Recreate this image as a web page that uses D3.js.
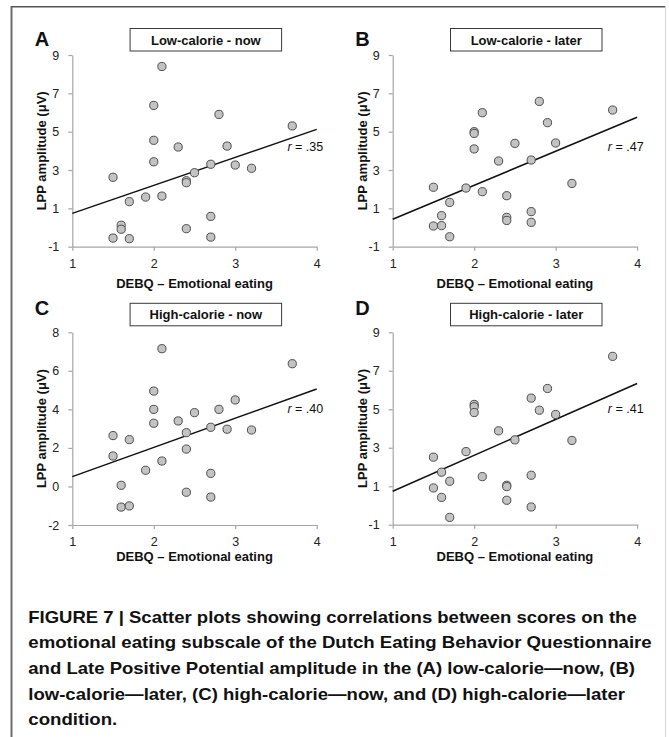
<!DOCTYPE html>
<html>
<head>
<meta charset="utf-8">
<script src="https://d3js.org/d3.v7.min.js"></script>
<style>
  body { margin: 0; background: #fff; }
  svg text { font-family: "Liberation Sans", Arial, Helvetica, sans-serif; }
</style>
</head>
<body>
<script>
// values
var debqA = [2.1, 2.0, 2.8, 3.7, 2.0, 2.3, 2.9, 2.0, 1.5, 2.7, 3.0, 3.2, 2.5, 2.4, 2.4, 1.7, 1.9, 2.1, 2.7, 1.6, 1.6, 1.5, 1.7, 2.4, 2.7];
var lppA  = [8.4, 6.37, 5.9, 5.3, 4.55, 4.2, 4.25, 3.43, 2.62, 3.3, 3.26, 3.09, 2.86, 2.44, 2.34, 1.35, 1.59, 1.64, 0.58, 0.12, -0.09, -0.55, -0.58, -0.06, -0.5];

var debqB = [2.8, 3.7, 2.1, 2.9, 2.0, 2.0, 2.5, 3.0, 2.0, 2.3, 2.7, 3.2, 1.5, 1.9, 2.1, 2.4, 1.7, 1.6, 2.7, 2.4, 2.4, 2.7, 1.5, 1.6, 1.7];
var lppB  = [6.58, 6.13, 5.99, 5.47, 5.0, 4.91, 4.39, 4.41, 4.1, 3.47, 3.52, 2.3, 2.1, 2.06, 1.87, 1.66, 1.31, 0.62, 0.83, 0.53, 0.37, 0.27, 0.08, 0.1, -0.48];

var debqC = [2.1, 3.7, 2.0, 3.0, 2.0, 2.8, 2.5, 2.3, 2.0, 2.7, 2.9, 3.2, 2.4, 1.5, 1.7, 2.4, 1.5, 2.1, 1.9, 2.7, 1.6, 2.4, 2.7, 1.6, 1.7];
var lppC  = [7.15, 6.37, 4.95, 4.49, 4.0, 4.0, 3.83, 3.4, 3.28, 3.07, 2.97, 2.93, 2.79, 2.64, 2.43, 1.94, 1.58, 1.32, 0.84, 0.68, 0.06, -0.3, -0.55, -1.07, -1.01];

var debqD = [3.7, 2.9, 2.7, 2.0, 2.0, 2.8, 2.0, 3.0, 2.3, 2.5, 3.2, 1.9, 1.5, 1.6, 2.1, 2.7, 1.7, 2.4, 2.4, 1.5, 1.6, 2.4, 2.7, 1.7];
var lppD  = [7.75, 6.08, 5.58, 5.25, 5.13, 4.95, 4.83, 4.73, 3.88, 3.41, 3.38, 2.8, 2.51, 1.73, 1.5, 1.57, 1.26, 1.05, 0.98, 0.91, 0.42, 0.27, -0.08, -0.62];

// fitted line: LPP at DEBQ = 1 and DEBQ = 4
var fitA = [0.74, 5.12];
var fitB = [0.43, 5.75];
var fitC = [0.51, 5.06];
var fitD = [0.74, 6.34];

var rLabels = [".35", ".47", ".40", ".41"];
var titles = ["Low-calorie - now", "Low-calorie - later", "High-calorie - now", "High-calorie - later"];
var letters = ["A", "B", "C", "D"];

var xTicks = [1, 2, 3, 4];
var yTicksOdd = [-1, 1, 3, 5, 7, 9];
var yTicksEven = [-2, 0, 2, 4, 6, 8];

var captionLines = [
    "FIGURE 7 | Scatter plots showing correlations between scores on the",
    "emotional eating subscale of the Dutch Eating Behavior Questionnaire",
    "and Late Positive Potential amplitude in the (A) low-calorie\u2014now, (B)",
    "low-calorie\u2014later, (C) high-calorie\u2014now, and (D) high-calorie\u2014later",
    "condition."
];

var W = 669, H = 737;
var svg = d3.select("body").append("svg")
    .attr("width", W)
    .attr("height", H);

svg.append("rect").attr("width", W).attr("height", H).attr("fill", "#fff");

// outer frame (open at the bottom)
svg.append("line").attr("x1", 11.5).attr("x2", 11.5).attr("y1", 6).attr("y2", H)
    .attr("stroke", "#6e6e6e").attr("stroke-width", 2);
svg.append("line").attr("x1", 11).attr("x2", 666).attr("y1", 6.8).attr("y2", 6.8)
    .attr("stroke", "#555").attr("stroke-width", 1.5);
svg.append("line").attr("x1", 665.5).attr("x2", 665.5).attr("y1", 6).attr("y2", H)
    .attr("stroke", "#d8d8d8").attr("stroke-width", 1);

var panels = [
    {xs: debqA, ys: lppA, fit: fitA, ticks: yTicksOdd,  left: 72.3,  top: 55,    bottom: 246.7, row: 0},
    {xs: debqB, ys: lppB, fit: fitB, ticks: yTicksOdd,  left: 392.7, top: 55,    bottom: 246.7, row: 0},
    {xs: debqC, ys: lppC, fit: fitC, ticks: yTicksEven, left: 72.3,  top: 332.3, bottom: 525,   row: 1},
    {xs: debqD, ys: lppD, fit: fitD, ticks: yTicksOdd,  left: 392.7, top: 332.3, bottom: 524.7, row: 1}
];
var plotW = 244.4;
var axisGrey = "#a6a6a6";
var plain = function(d) { return String(d); };

panels.forEach(function(p, i) {
    var g = svg.append("g");
    var x = d3.scaleLinear().domain([1, 4]).range([p.left, p.left + plotW]);
    var y = d3.scaleLinear().domain(d3.extent(p.ticks)).range([p.bottom, p.top]);

    var xAxis = g.append("g")
        .attr("transform", "translate(0," + p.bottom + ")")
        .call(d3.axisBottom(x).tickValues(xTicks).tickFormat(plain)
            .tickSize(4).tickSizeOuter(0).tickPadding(8));
    var yAxis = g.append("g")
        .attr("transform", "translate(" + p.left + ",0)")
        .call(d3.axisLeft(y).tickValues(p.ticks).tickFormat(plain)
            .tickSize(4).tickSizeOuter(0).tickPadding(9));

    [xAxis, yAxis].forEach(function(a) {
        a.attr("font-size", 12.5).attr("font-family", "'Liberation Sans', Arial, sans-serif");
        a.select(".domain").attr("stroke", axisGrey).attr("stroke-width", 1.2);
        a.selectAll(".tick line").attr("stroke", axisGrey).attr("stroke-width", 1.2);
        a.selectAll(".tick text").attr("fill", "#222");
    });

    // regression line
    g.append("line")
        .attr("x1", x(1)).attr("y1", y(p.fit[0]))
        .attr("x2", x(4)).attr("y2", y(p.fit[1]))
        .attr("stroke", "#111")
        .attr("stroke-width", 1.5);

    // points
    var pts = p.xs.map(function(v, k) { return {x: v, y: p.ys[k]}; });
    g.selectAll(".pt").data(pts).enter().append("circle")
        .attr("class", "pt")
        .attr("cx", function(d) { return x(d.x); })
        .attr("cy", function(d) { return y(d.y); })
        .attr("r", 4.1)
        .attr("fill", "#c3c3c3")
        .attr("stroke", "#4d4d4d")
        .attr("stroke-width", 1);

    // r label
    var rY = p.row == 0 ? 150.5 : 413;
    var rt = g.append("text")
        .attr("x", p.left + plotW + 6.5)
        .attr("y", rY)
        .attr("text-anchor", "end")
        .attr("fill", "#111")
        .style("font-size", "12.5px");
    rt.append("tspan").style("font-style", "italic").text("r");
    rt.append("tspan").text(" = " + rLabels[i]);

    // panel letter
    g.append("text")
        .attr("x", p.left - 37.5)
        .attr("y", p.row == 0 ? 46 : 315)
        .style("font-size", "20px")
        .style("font-weight", "bold")
        .attr("fill", "#111")
        .text(letters[i]);

    // title box
    var bx = p.left + 57.8, by = p.row == 0 ? 28.5 : 303.3;
    g.append("rect")
        .attr("x", bx).attr("y", by)
        .attr("width", 151.5).attr("height", 22.5)
        .attr("fill", "#fff")
        .attr("stroke", "#3a3a3a")
        .attr("stroke-width", 1);
    g.append("text")
        .attr("x", bx + 151.5 / 2)
        .attr("y", by + 16)
        .attr("text-anchor", "middle")
        .style("font-size", "13px")
        .style("font-weight", "bold")
        .attr("fill", "#111")
        .text(titles[i]);

    // axis titles
    g.append("text")
        .attr("x", p.left + plotW / 2)
        .attr("y", p.row == 0 ? 288 : 560.5)
        .attr("text-anchor", "middle")
        .style("font-size", "13px")
        .style("font-weight", "bold")
        .attr("fill", "#111")
        .text("DEBQ \u2013 Emotional eating");
    g.append("text")
        .attr("transform", "translate(" + (p.left - 26) + "," + ((p.top + p.bottom) / 2) + ") rotate(-90)")
        .attr("text-anchor", "middle")
        .style("font-size", "13px")
        .style("font-weight", "bold")
        .attr("fill", "#111")
        .text("LPP amplitude (\u03bcV)");
});

// caption
var captionEnds = [636.7, 651.7, 635, 625, 117.3];
svg.selectAll(".cap").data(captionLines).enter().append("text")
    .attr("class", "cap")
    .attr("x", 28.3)
    .attr("y", function(d, k) { return 622.7 + k * 25.6; })
    .attr("textLength", function(d, k) { return captionEnds[k] - 28.3; })
    .attr("lengthAdjust", "spacingAndGlyphs")
    .style("font-size", "16.5px")
    .style("font-weight", "bold")
    .attr("fill", "#111")
    .text(function(d) { return d; });
</script>
</body>
</html>
